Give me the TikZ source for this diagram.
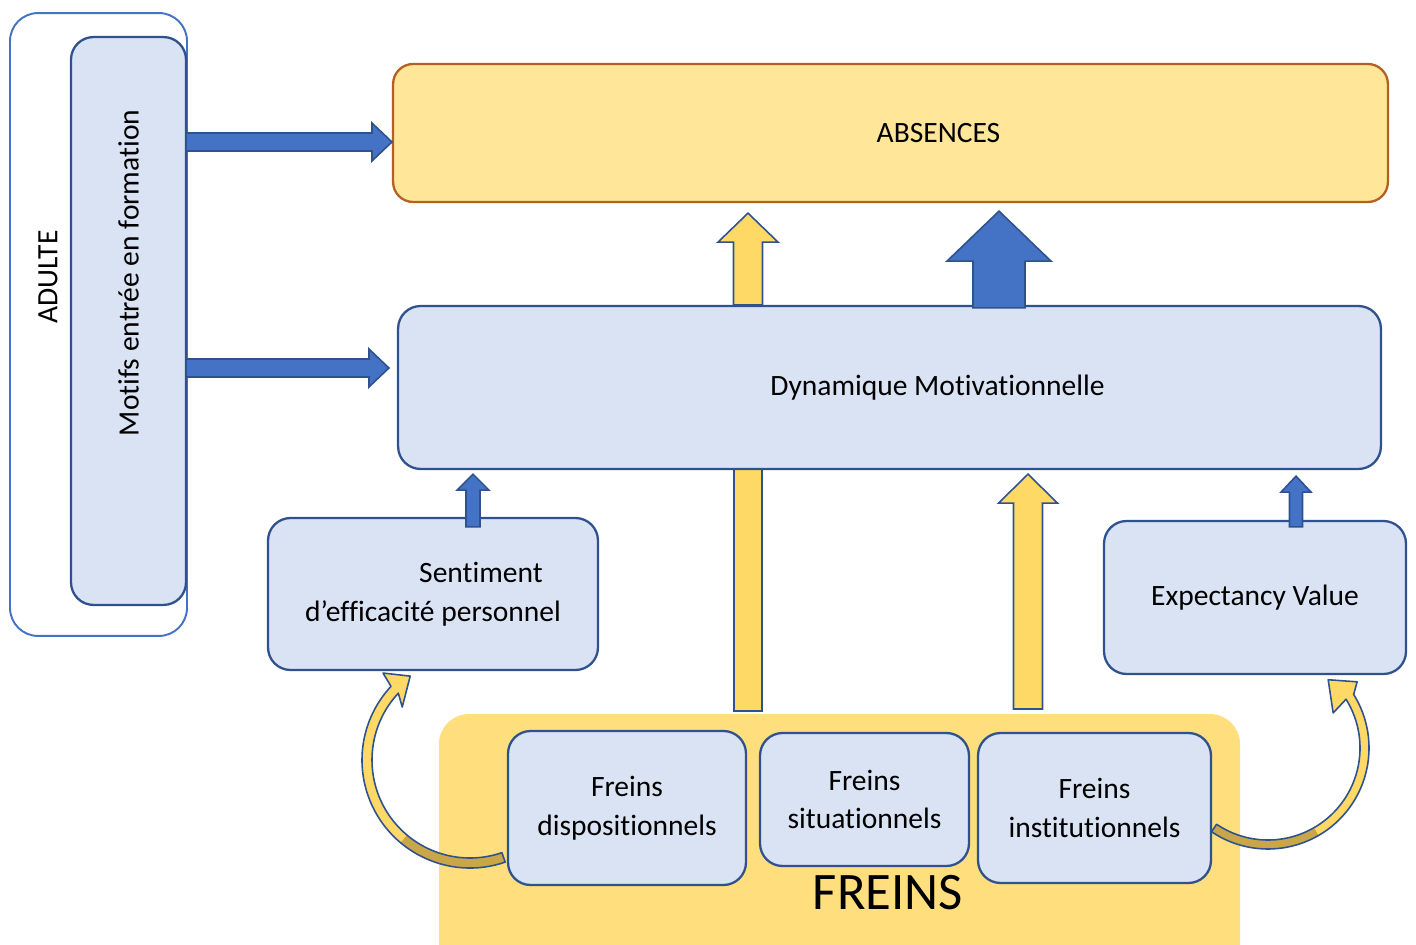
\documentclass[tikz,border=0pt]{standalone}
\usepackage{fontspec}
\setmainfont{Carlito}[Ligatures={NoCommon}]
\usetikzlibrary{calc,backgrounds}

\definecolor{boxblue}{RGB}{218,227,243}
\definecolor{edgeblue}{RGB}{47,82,143}
\definecolor{midblue}{RGB}{68,114,196}
\definecolor{paleyellow}{RGB}{255,230,153}
\definecolor{freinsyellow}{RGB}{255,223,125}
\definecolor{goldyellow}{RGB}{255,217,102}
\definecolor{darkgold}{RGB}{201,167,72}
\definecolor{rust}{RGB}{180,95,35}

\newcommand{\boxfont}{\fontsize{16.8}{22}\selectfont}

\tikzset{
  bluebox/.style={draw=edgeblue, fill=boxblue, line width=1.3pt, rounded corners=0.45cm, align=center},
  yellowbox/.style={draw=rust, fill=paleyellow, line width=1.3pt, rounded corners=0.4cm},
  adultbox/.style={draw=midblue, fill=white, line width=1.1pt, rounded corners=0.56cm},
  bluearr/.style={draw=edgeblue, fill=midblue, line width=0.9pt},
  yellowarr/.style={draw=edgeblue, fill=goldyellow, line width=0.9pt},
  curveline/.style={draw=edgeblue, line width=0.9pt}
}

% block arrow pointing up: style, base, tip, half shaft, half head, head length
\newcommand{\uparr}[6]{%
  \coordinate (ua) at (#2); \coordinate (ut) at (#3);
  \coordinate (ub) at (ua |- ut);
  \draw[#1] ($(ua)+(-#4,0)$) -- ($(ub)+(-#4,-#6)$) -- ($(ub)+(-#5,-#6)$) -- (ub)
    -- ($(ub)+(#5,-#6)$) -- ($(ub)+(#4,-#6)$) -- ($(ua)+(#4,0)$) -- cycle;}

% block arrow pointing right
\newcommand{\rightarr}[6]{%
  \coordinate (ha) at (#2); \coordinate (ht) at (#3);
  \coordinate (hb) at (ha -| ht);
  \draw[#1] ($(ha)+(0,#4)$) -- ($(hb)+(-#6,#4)$) -- ($(hb)+(-#6,#5)$) -- (hb)
    -- ($(hb)+(-#6,-#5)$) -- ($(hb)+(-#6,-#4)$) -- ($(ha)+(0,-#4)$) -- cycle;}

% curved arrow: centre, start, end, outer r, inner r, outer barb, tip, inner barb, end of dark tail
\newcommand{\curvearr}[9]{%
  \fill[goldyellow] ($(#1)+(#2:#4)$) arc[start angle=#2, end angle=#3, radius=#4]
    -- ($(#1)+(#6)$) -- ($(#1)+(#7)$) -- ($(#1)+(#8)$)
    -- ($(#1)+(#3:#5)$) arc[start angle=#3, end angle=#2, radius=#5] -- cycle;
  \fill[darkgold] ($(#1)+(#2:#4)$) arc[start angle=#2, end angle=#9, radius=#4]
    -- ($(#1)+(#9:#5)$) arc[start angle=#9, end angle=#2, radius=#5] -- cycle;
  \draw[curveline, line join=round] ($(#1)+(#2:#4)$) arc[start angle=#2, end angle=#3, radius=#4]
    -- ($(#1)+(#6)$) -- ($(#1)+(#7)$) -- ($(#1)+(#8)$)
    -- ($(#1)+(#3:#5)$) arc[start angle=#3, end angle=#2, radius=#5] -- cycle;}

\begin{document}
\begin{tikzpicture}[x=0.02cm, y=0.02cm, font=\boxfont]
\useasboundingbox (0,0) rectangle (1416,-945);

% left column
\node[adultbox, minimum width=3.54cm, minimum height=12.46cm] (adulte) at (98.5,-324.5) {};
\node[rotate=90] (adultelbl) at (48,-277) {ADULTE};
\node[bluebox, rotate=90, minimum width=11.36cm, minimum height=2.3cm] (motifs) at (128.5,-321)
  {\hspace*{1.92cm}Motifs entrée en formation};

% top box
\node[yellowbox, minimum width=19.9cm, minimum height=2.76cm] (absences) at (890.5,-133)
  {\hspace*{1.92cm}ABSENCES};

% bar hidden behind the middle box
\uparr{yellowarr}{748,-711}{748,-430}{14}{29}{29}

\node[bluebox, minimum width=19.66cm, minimum height=3.26cm] (dyn) at (889.5,-387.5)
  {\hspace*{1.92cm}Dynamique Motivationnelle};

\node[bluebox, minimum width=6.6cm, minimum height=3.04cm] (sentiment) at (433,-594)
  {\hspace*{1.92cm}Sentiment\\d’efficacité personnel};
\node[bluebox, minimum width=6.04cm, minimum height=3.06cm] (expect) at (1255,-597.5)
  {Expectancy Value};

% freins
\fill[freinsyellow, rounded corners=0.6cm] (439,-714) rectangle (1240,-1000);
\node[bluebox, minimum width=4.76cm, minimum height=3.08cm] (dispo) at (627,-808)
  {Freins\\dispositionnels};
\node[bluebox, minimum width=4.18cm, minimum height=2.66cm] (situ) at (864.5,-799.5)
  {Freins\\situationnels};
\node[bluebox, minimum width=4.66cm, minimum height=3.0cm] (instit) at (1094.5,-808)
  {Freins\\institutionnels};
\node[font=\fontsize{30}{36}\selectfont] (freinslbl) at (888,-893) {FREINS};

% arrows
\coordinate (m1) at (186,-142);
\coordinate (m2) at (186,-368);
\rightarr{bluearr}{m1}{absences.west}{9}{19}{20}
\rightarr{bluearr}{m2}{$(dyn.west)+(-8,0)$}{9}{19}{20}

\uparr{yellowarr}{$(dyn.north)+(-141.5,0)$}{$(absences.south)+(0,-10)$}{14.5}{30}{29}
\uparr{bluearr}{$(dyn.north)+(109.5,-3)$}{$(absences.south)+(0,-8)$}{26}{52}{50}
\uparr{yellowarr}{1028,-709}{$(dyn.south)+(0,-4)$}{14.5}{29.5}{29}
\uparr{bluearr}{$(sentiment.north)+(40,-10)$}{$(dyn.south)+(0,-4)$}{7}{16}{16}
\uparr{bluearr}{$(expect.north)+(41,-7)$}{$(dyn.south)+(0,-6)$}{6.5}{15}{16}

\coordinate (lc) at (470,-760);
\coordinate (rc) at (1268,-748);
\curvearr{lc}{-71}{-223}{108}{98}{135:123}{125.5:103}{142:86}{-130}
\curvearr{rc}{-124}{32}{101}{92}{36.6:111}{48.6:91}{28.3:74}{-60}
\end{tikzpicture}
\end{document}
